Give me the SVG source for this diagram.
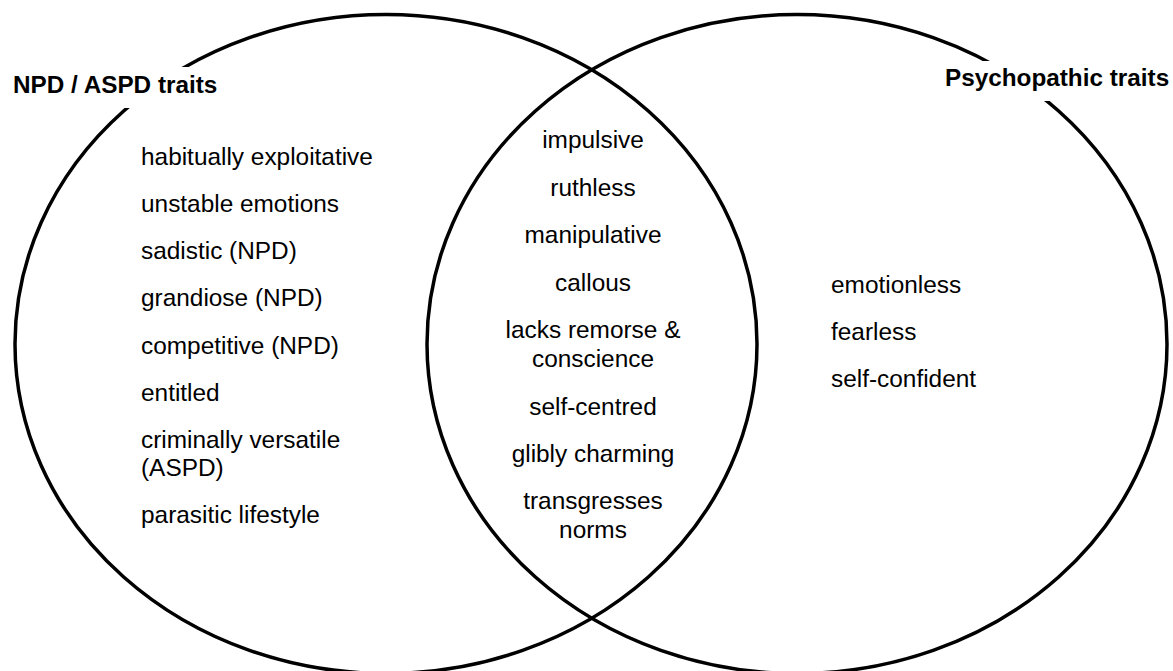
<svg xmlns="http://www.w3.org/2000/svg" width="1173" height="671" viewBox="0 0 1173 671">
  <style>
    .set { fill: none; stroke: #000; stroke-width: 3.5; }
    .item { font-family: "Liberation Sans", Arial, sans-serif; font-size: 24.4px; fill: #000; }
    .mid { text-anchor: middle; }
    .title { font-family: "Liberation Sans", Arial, sans-serif; font-size: 24.3px; font-weight: bold; fill: #000; }
    .mask { fill: #fff; }
  </style>
  <rect width="1173" height="671" fill="#fff"/>

  <!-- the two overlapping sets -->
  <g id="sets">
    <ellipse id="set-npd-aspd" class="set" cx="386" cy="344" rx="371" ry="329.5"/>
    <ellipse id="set-psychopathic" class="set" cx="797" cy="344" rx="370" ry="329.5"/>
  </g>

  <!-- set headings sit on white plates that break the outlines -->
  <g id="heading-npd-aspd">
    <rect class="mask" x="9" y="67" width="214" height="41"/>
    <text class="title" x="13" y="92.5">NPD / ASPD traits</text>
  </g>
  <g id="heading-psychopathic">
    <rect class="mask" x="940" y="61" width="233" height="40"/>
    <text class="title" x="945" y="86">Psychopathic traits</text>
  </g>

  <!-- traits belonging only to NPD / ASPD -->
  <g id="npd-aspd-only" class="item">
    <text x="141" y="165">habitually exploitative</text>
    <text x="141" y="212">unstable emotions</text>
    <text x="141" y="259">sadistic (NPD)</text>
    <text x="141" y="306">grandiose (NPD)</text>
    <text x="141" y="354">competitive (NPD)</text>
    <text x="141" y="401">entitled</text>
    <text x="141" y="448">criminally versatile</text>
    <text x="141" y="476">(ASPD)</text>
    <text x="141" y="523">parasitic lifestyle</text>
  </g>

  <!-- shared traits in the overlap -->
  <g id="shared" class="item mid">
    <text x="593" y="148">impulsive</text>
    <text x="593" y="196">ruthless</text>
    <text x="593" y="243">manipulative</text>
    <text x="593" y="291">callous</text>
    <text x="593" y="338">lacks remorse &amp;</text>
    <text x="593" y="367">conscience</text>
    <text x="593" y="415">self-centred</text>
    <text x="593" y="462">glibly charming</text>
    <text x="593" y="509">transgresses</text>
    <text x="593" y="538">norms</text>
  </g>

  <!-- traits belonging only to psychopathy -->
  <g id="psychopathic-only" class="item">
    <text x="831" y="293">emotionless</text>
    <text x="831" y="340">fearless</text>
    <text x="831" y="387">self-confident</text>
  </g>

  <g id="connectors"/>
</svg>
